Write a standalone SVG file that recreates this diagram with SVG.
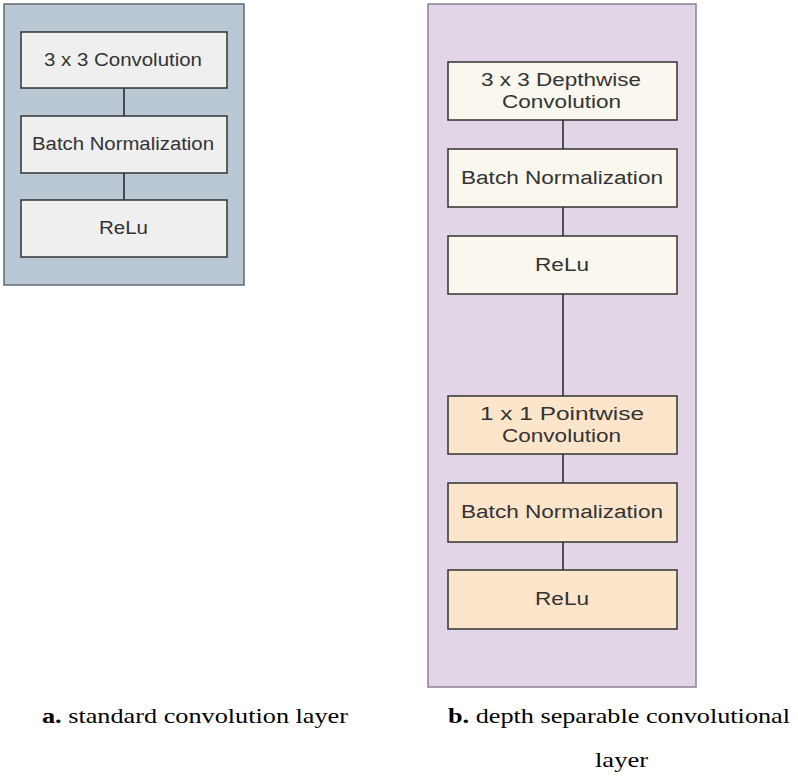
<svg xmlns="http://www.w3.org/2000/svg" width="798" height="776" viewBox="0 0 798 776">
<style>
.box{stroke:#333;stroke-width:1.5}
.g{fill:#efefef}
.y{fill:#f9f7ee}
.o{fill:#fde5cc}
.t{font-family:"Liberation Sans",Arial,sans-serif;font-size:18px;fill:#333;text-anchor:middle}
.cap{font-family:"Liberation Serif","Times New Roman",serif;font-size:21px;fill:#000}
.con line{stroke:#222;stroke-width:1.5}
</style>
<rect width="798" height="776" fill="#fff"/>
<g id="panelA">
<rect x="4" y="4" width="240" height="281" fill="#b9c8d4" stroke="#5e6a75" stroke-width="1.5"/>
</g>
<g id="panelB">
<rect x="428" y="4" width="268" height="683" fill="#e1d5e7" stroke="#8c7f98" stroke-width="1.5"/>
</g>
<g class="con" id="connectors">
<line x1="124" y1="88" x2="124" y2="116"/>
<line x1="124" y1="173" x2="124" y2="200"/>
<line x1="563" y1="120" x2="563" y2="149"/>
<line x1="563" y1="207" x2="563" y2="236"/>
<line x1="563" y1="294" x2="563" y2="396"/>
<line x1="563" y1="454" x2="563" y2="483"/>
<line x1="563" y1="542" x2="563" y2="570"/>
</g>
<g id="a1"><rect class="box g" x="21" y="32" width="206" height="56"/><text class="t" x="123" y="66" textLength="158" lengthAdjust="spacingAndGlyphs">3 x 3 Convolution</text></g>
<g id="a2"><rect class="box g" x="21" y="116" width="206" height="57"/><text class="t" x="123" y="150" textLength="182" lengthAdjust="spacingAndGlyphs">Batch Normalization</text></g>
<g id="a3"><rect class="box g" x="21" y="200" width="206" height="57"/><text class="t" x="123.5" y="234" textLength="49" lengthAdjust="spacingAndGlyphs">ReLu</text></g>
<g id="b1"><rect class="box y" x="448" y="62" width="229" height="58"/><text class="t" x="561" y="86" textLength="160" lengthAdjust="spacingAndGlyphs">3 x 3 Depthwise</text><text class="t" x="561.5" y="108" textLength="119" lengthAdjust="spacingAndGlyphs">Convolution</text></g>
<g id="b2"><rect class="box y" x="448" y="149" width="229" height="58"/><text class="t" x="562" y="184" textLength="202" lengthAdjust="spacingAndGlyphs">Batch Normalization</text></g>
<g id="b3"><rect class="box y" x="448" y="236" width="229" height="58"/><text class="t" x="562" y="271" textLength="54" lengthAdjust="spacingAndGlyphs">ReLu</text></g>
<g id="b4"><rect class="box o" x="448" y="396" width="229" height="58"/><text class="t" x="562" y="420" textLength="164" lengthAdjust="spacingAndGlyphs">1 x 1 Pointwise</text><text class="t" x="561.5" y="442" textLength="119" lengthAdjust="spacingAndGlyphs">Convolution</text></g>
<g id="b5"><rect class="box o" x="448" y="483" width="229" height="59"/><text class="t" x="562" y="518" textLength="202" lengthAdjust="spacingAndGlyphs">Batch Normalization</text></g>
<g id="b6"><rect class="box o" x="448" y="570" width="229" height="59"/><text class="t" x="562" y="605" textLength="54" lengthAdjust="spacingAndGlyphs">ReLu</text></g>
<g id="captions">
<text class="cap" x="42" y="723" textLength="306" lengthAdjust="spacingAndGlyphs"><tspan font-weight="bold">a.</tspan> standard convolution layer</text>
<text class="cap" x="448" y="723" textLength="342" lengthAdjust="spacingAndGlyphs"><tspan font-weight="bold">b.</tspan> depth separable convolutional</text>
<text class="cap" x="595" y="767" textLength="53" lengthAdjust="spacingAndGlyphs">layer</text>
</g>
</svg>
